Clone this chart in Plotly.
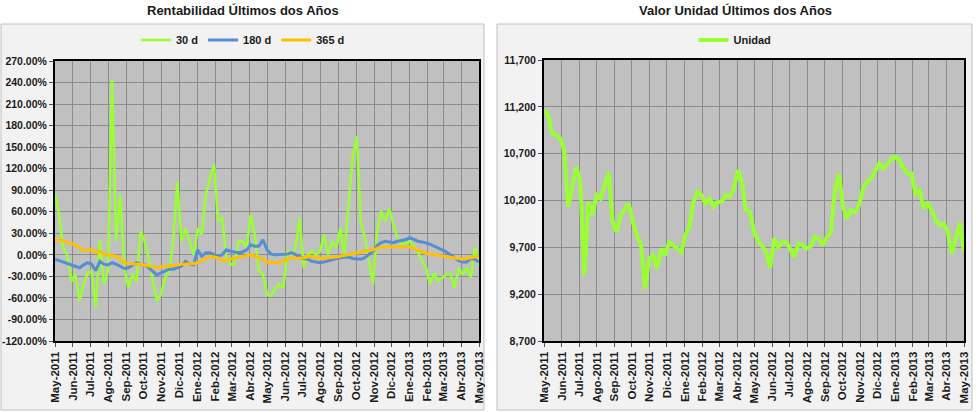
import pandas as pd
import plotly.graph_objects as go

# ---------------- data (~weekly) ----------------
dates = pd.date_range("2011-05-01", "2013-05-01", periods=105)

rent_30d = [86, 56, 10, 0, -37, -27, -64, -41, -25, -23, -74, 21, -41, -23, 244, 19, 84, -18, -46, -27,
            -37, 33, 19, -5, -37, -64, -55, -32, -23, 19, 102, 19, 37, 19, 0, 37, 28, 84, 107, 126,
            47, 51, -4, -13, -13, 19, 19, 10, 56, 28, -23, -27, -55, -57, -48, -41, -46, 5, 0, 10,
            51, -18, 0, 5, 0, 5, 28, 0, 19, 10, 37, 0, 70, 135, 165, 47, 24, -9, -41, 33,
            61, 47, 65, 42, 24, 14, 17, 19, 12, 5, -9, -18, -41, -25, -37, -32, -27, -27, -46, -18,
            -27, -18, -32, 10, -12]

rent_180d = [-6, -8, -9, -11, -13, -15, -18, -14, -11, -13, -22, -9, -13, -14, -11, -13, -16, -19, -18, -14,
             -11, -13, -14, -18, -23, -28, -25, -22, -20, -20, -18, -16, -9, -13, -14, 7, -2, 3, 3, 0,
             -2, 0, 7, 5, 4, 3, 4, 7, 14, 12, 12, 21, 7, 1, 0, 0, 0, 1, 3, 0,
             -3, -5, -6, -9, -10, -11, -10, -8, -6, -5, -4, -4, -3, -5, -5, -6, -4, 1, 5, 13,
             17, 19, 18, 17, 19, 20, 21, 24, 21, 19, 18, 17, 15, 12, 10, 7, 4, 0, -5, -8,
             -10, -10, -5, -6, -10]

rent_365d = [21, 21, 20, 17, 15, 14, 10, 6, 7, 7, 3, 5, 1, 0, -2, -2, -6, -11, -12, -13,
             -13, -13, -14, -16, -17, -18, -17, -16, -16, -15, -14, -13, -13, -13, -12, -11, -8, -5, -2, -3,
             -4, -8, -8, -6, -5, -4, -2, -1, 0, -2, -4, -6, -10, -11, -11, -11, -9, -6, -4, -5,
             -5, -4, -3, -2, -4, -5, -5, -4, -4, -3, -2, -1, 0, 1, 2, 3, 4, 6, 7, 9,
             11, 11, 11, 11, 10, 10, 10, 11, 9, 6, 4, 2, 1, 0, 0, -1, -2, -3, -4, -5,
             -6, -5, -4, -2, -2]

unidad = [11165, 11112, 10916, 10898, 10862, 10738, 10132, 10328, 10560, 10399, 9400, 10185, 10043, 10257, 10221,
          10364, 10500, 9970, 9865, 10043, 10114, 10167, 9971, 9829, 9740, 9259, 9579, 9615, 9472, 9686,
          9615, 9758, 9722, 9686, 9650, 9829, 9918, 10185, 10292, 10257, 10167, 10221, 10132, 10185, 10185,
          10257, 10239, 10328, 10524, 10399, 10096, 10078, 9865, 9776, 9704, 9651, 9480, 9794, 9704, 9758,
          9758, 9668, 9597, 9740, 9722, 9686, 9704, 9811, 9793, 9722, 9811, 9847, 10292, 10488, 10150,
          10007, 10096, 10078, 10150, 10328, 10399, 10435, 10506, 10595, 10542, 10595, 10641, 10666, 10631,
          10542, 10488, 10488, 10274, 10310, 10114, 10167, 10096, 9989, 9936, 9954, 9865, 9633, 9811, 9960,
          9650]

month_ticks = pd.date_range("2011-05-01", "2013-05-01", freq="MS")
month_names = ["Ene", "Feb", "Mar", "Abr", "May", "Jun", "Jul", "Ago", "Sep", "Oct", "Nov", "Dic"]
tick_text = [f"{month_names[d.month - 1]}-{d.year}" for d in month_ticks]

rent_ticks = list(range(-120, 271, 30))
unidad_ticks = list(range(8700, 11701, 500))

# ---------------- figure ----------------
W, H = 979, 412
FONT = "Liberation Sans, Arial, sans-serif"

fig = go.Figure()
fig.add_trace(go.Scatter(x=dates, y=rent_30d, name="30 d", mode="lines",
                         line=dict(color="#99FF33", width=2.5), xaxis="x", yaxis="y", legend="legend"))
fig.add_trace(go.Scatter(x=dates, y=rent_180d, name="180 d", mode="lines",
                         line=dict(color="#558ED5", width=3), xaxis="x", yaxis="y", legend="legend"))
fig.add_trace(go.Scatter(x=dates, y=rent_365d, name="365 d", mode="lines",
                         line=dict(color="#FFC000", width=3), xaxis="x", yaxis="y", legend="legend"))
fig.add_trace(go.Scatter(x=dates, y=unidad, name="Unidad", mode="lines",
                         line=dict(color="#99FF33", width=4), xaxis="x2", yaxis="y2", legend="legend2"))


def px_x(p):
    return p / W


def px_y(p):
    return 1 - p / H


xcommon = dict(type="date", range=[month_ticks[0], month_ticks[-1]], tickmode="array",
               tickvals=list(month_ticks), ticktext=tick_text, tickangle=-90, automargin=False,
               tickfont=dict(family=FONT, size=11.5, color="#1a1a1a", weight="bold"),
               showgrid=True, gridcolor="#8c8c8c", gridwidth=1,
               showline=True, linecolor="#000000", linewidth=2, mirror=True,
               ticks="outside", ticklen=4, tickcolor="#555555", zeroline=False)
ycommon = dict(tickmode="array", showgrid=True, gridcolor="#8c8c8c", gridwidth=1, automargin=False,
               showline=True, linecolor="#000000", linewidth=2, mirror=True,
               ticks="outside", ticklen=4, tickcolor="#555555", zeroline=False,
               tickfont=dict(family=FONT, size=10.5, color="#1a1a1a", weight="bold"))

fig.update_layout(
    width=W, height=H,
    margin=dict(l=0, r=0, t=0, b=0, autoexpand=False),
    paper_bgcolor="#ffffff",
    plot_bgcolor="#c0c0c0",
    font=dict(family=FONT, color="#1a1a1a"),
    xaxis=dict(domain=[px_x(55), px_x(479)], anchor="y", **xcommon),
    yaxis=dict(domain=[px_y(341), px_y(61)], anchor="x", range=[-120, 270],
               tickvals=rent_ticks, ticktext=[f"{v:.2f}%" for v in rent_ticks], **ycommon),
    xaxis2=dict(domain=[px_x(544), px_x(964)], anchor="y2", **xcommon),
    yaxis2=dict(domain=[px_y(341), px_y(60)], anchor="x2", range=[8700, 11700],
                tickvals=unidad_ticks, ticktext=[f"{v:,}" for v in unidad_ticks], **ycommon),
    legend=dict(orientation="h", x=px_x(243), y=px_y(40), xanchor="center", yanchor="middle",
                bgcolor="rgba(0,0,0,0)", itemwidth=30, tracegroupgap=0,
                font=dict(family=FONT, size=11, color="#1a1a1a", weight="bold")),
    legend2=dict(orientation="h", x=px_x(735), y=px_y(40), xanchor="center", yanchor="middle",
                 bgcolor="rgba(0,0,0,0)", itemwidth=30,
                 font=dict(family=FONT, size=11, color="#1a1a1a", weight="bold")),
    shapes=[
        dict(type="rect", xref="paper", yref="paper", x0=px_x(1), x1=px_x(484), y0=px_y(410), y1=px_y(24),
             fillcolor="#f2f2f2", line=dict(color="#bfbfbf", width=1), layer="below"),
        dict(type="rect", xref="paper", yref="paper", x0=px_x(497), x1=px_x(972), y0=px_y(410), y1=px_y(24),
             fillcolor="#f2f2f2", line=dict(color="#bfbfbf", width=1), layer="below"),
        dict(type="rect", xref="x domain", yref="y domain", x0=0, x1=1, y0=0, y1=1,
             fillcolor="#c0c0c0", line=dict(width=0), layer="below"),
        dict(type="rect", xref="x2 domain", yref="y2 domain", x0=0, x1=1, y0=0, y1=1,
             fillcolor="#c0c0c0", line=dict(width=0), layer="below"),
    ],
    annotations=[
        dict(text="<b>Rentabilidad Últimos dos Años</b>", xref="paper", yref="paper",
             x=px_x(243), y=px_y(11), xanchor="center", yanchor="middle", showarrow=False,
             font=dict(family=FONT, size=13, color="#1a1a1a")),
        dict(text="<b>Valor Unidad Últimos dos Años</b>", xref="paper", yref="paper",
             x=px_x(735), y=px_y(11), xanchor="center", yanchor="middle", showarrow=False,
             font=dict(family=FONT, size=13, color="#1a1a1a")),
    ],
)

fig.write_html("out.html", config={"displayModeBar": False},
               post_script="document.body.style.margin='0';document.body.style.overflow='hidden';")
